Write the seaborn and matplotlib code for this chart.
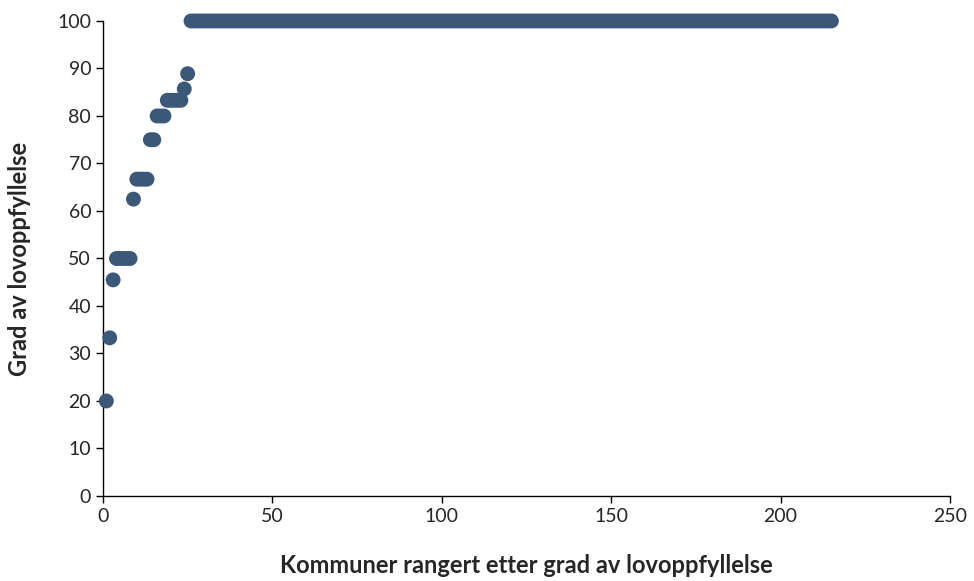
import numpy as np
import pandas as pd
import matplotlib
matplotlib.use('Agg')
import matplotlib.pyplot as plt
import seaborn as sns

# grad av lovoppfyllelse per rang (verdi, antall kommuner)
levels = [20.0, 33.3, 45.5, 50.0, 62.5, 66.7, 75.0, 80.0, 83.3, 85.7, 88.9, 100.0]
counts = [1, 1, 1, 5, 1, 4, 2, 3, 5, 1, 1, 190]

values = np.repeat(levels, counts)
ranks = np.arange(1, len(values) + 1)
data = pd.DataFrame({'rang': ranks, 'grad': values})

sns.set_style('white')
plt.rcParams['font.family'] = ['Lato', 'DejaVu Sans']

fig = plt.figure(figsize=(9.74, 5.81), dpi=100)
ax = fig.add_axes([0.1057, 0.1463, 0.8696, 0.8176])
sns.scatterplot(x='rang', y='grad', data=data, ax=ax, color='#3b5878',
                s=115, edgecolor='none', clip_on=False, zorder=3)

ax.set_xlim(0, 250)
ax.set_ylim(0, 100)
ax.set_xticks(range(0, 251, 50))
ax.set_yticks(range(0, 101, 10))
ax.tick_params(axis='both', labelsize=14, length=5, width=1, direction='out',
               color='black', left=True, bottom=True)
for s in ['top', 'right']:
    ax.spines[s].set_visible(False)
for s in ['left', 'bottom']:
    ax.spines[s].set_color('black')
    ax.spines[s].set_linewidth(1)

ax.set_xlabel('Kommuner rangert etter grad av lovoppfyllelse', fontsize=17,
              fontweight='bold', va='center')
ax.set_ylabel('Grad av lovoppfyllelse', fontsize=17, fontweight='bold', va='center')
ax.xaxis.set_label_coords(0.5, -0.147)
ax.yaxis.set_label_coords(-0.098, 0.5)

fig.savefig('out.png', dpi=100)
